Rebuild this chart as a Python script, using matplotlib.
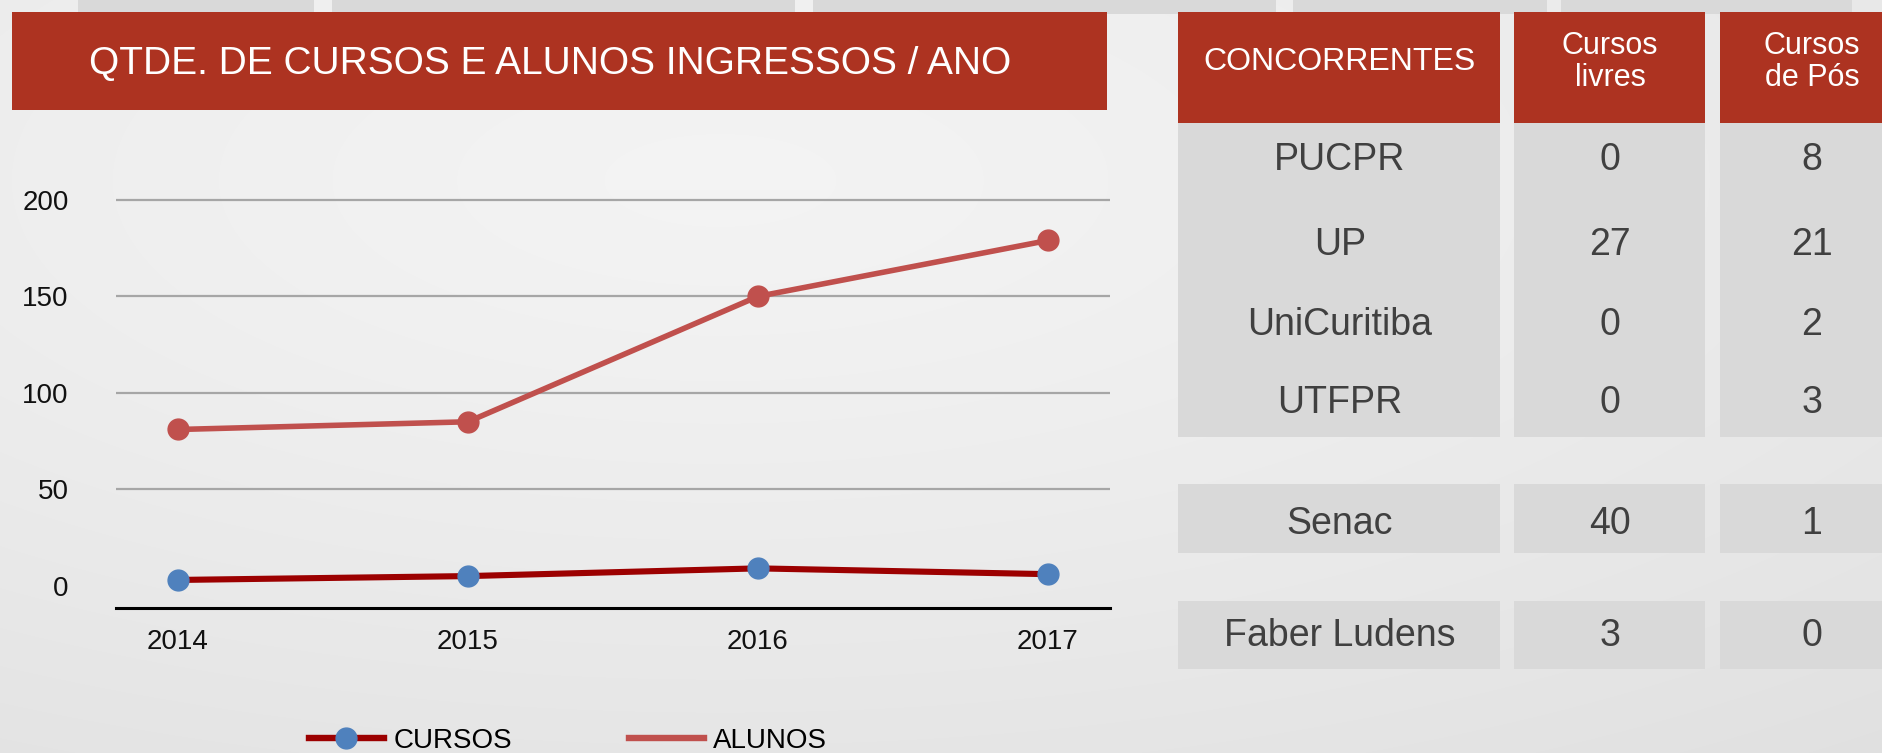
import matplotlib
matplotlib.use('Agg')
import matplotlib.pyplot as plt
import numpy as np
from matplotlib import font_manager
from matplotlib.lines import Line2D
from matplotlib.patches import Rectangle

# dados do grafico
anos = ['2014', '2015', '2016', '2017']
cursos = [3, 5, 9, 6]
alunos = [81, 85, 150, 179]
y_ticks = [0, 50, 100, 150, 200]

# tabela de concorrentes
concorrentes = ['PUCPR', 'UP', 'UniCuritiba', 'UTFPR', 'Senac', 'Faber Ludens']
cursos_livres = [0, 27, 0, 0, 40, 3]
cursos_pos = [8, 21, 2, 3, 1, 0]

titulo = 'QTDE. DE CURSOS E ALUNOS INGRESSOS / ANO'
cabecalho = ['CONCORRENTES', 'Cursos\nlivres', 'Cursos\nde Pós']
legenda = ['CURSOS', 'ALUNOS']


def pick_font(name, default):
    try:
        font_manager.findfont(name, fallback_to_default=False)
        return name
    except Exception:
        return default


SANS = 'Liberation Sans'
NARROW = pick_font('Liberation Sans Narrow', SANS)
plt.rcParams['font.family'] = [SANS, 'DejaVu Sans']

VERMELHO = '#ad3321'
CINZA_CEL = '#d9d9d9'
TXT_TAB = '#404040'

W, H = 1882, 753
fig = plt.figure(figsize=(W / 100, H / 100), dpi=100)

# fundo com degrade
ax_bg = fig.add_axes([0, 0, 1, 1])
ax_bg.set_xlim(0, W)
ax_bg.set_ylim(H, 0)
ax_bg.axis('off')
yy, xx = np.mgrid[0:H, 0:W]
d = np.hypot((xx - 720) / W, (yy - 180) / H)
d = d / d.max()
grad = 0.955 - 0.075 * d ** 1.3
rgb = np.dstack([grad, grad, grad])
ax_bg.imshow(rgb, extent=(0, W, H, 0), aspect='auto', interpolation='bilinear')

# faixas no topo
for x0, x1 in [(78, 314), (332, 795), (813, 1276), (1293, 1547), (1561, 1852)]:
    ax_bg.add_patch(Rectangle((x0, 0), x1 - x0, 14, color=CINZA_CEL, lw=0))

# caixa do titulo
ax_bg.add_patch(Rectangle((12, 12), 1095, 98, color=VERMELHO, lw=0))
title_size = 33 if NARROW != SANS else 28
ax_bg.text(550, 64, titulo, color='white', fontsize=title_size, family=NARROW,
           ha='center', va='center')

# tabela
colunas = [(1178, 1500), (1514, 1705), (1720, 1882)]
col_txt_x = [1340, 1610, 1812]
for (x0, x1), txt, tx in zip(colunas, cabecalho, col_txt_x):
    ax_bg.add_patch(Rectangle((x0, 12), x1 - x0, 111, color=VERMELHO, lw=0))
    fs = 23 if '\n' not in txt else 22
    ax_bg.text(tx, 62, txt, color='white', fontsize=fs, ha='center', va='center',
               linespacing=1.1)

blocos = [(123, 437), (484, 553), (601, 669)]
for y0, y1 in blocos:
    for x0, x1 in colunas:
        ax_bg.add_patch(Rectangle((x0, y0), x1 - x0, y1 - y0, color=CINZA_CEL, lw=0))

linhas_y = [160, 245, 325, 403, 524, 636]
for nome, livre, pos, ty in zip(concorrentes, cursos_livres, cursos_pos, linhas_y):
    for val, tx in zip([nome, str(livre), str(pos)], col_txt_x):
        ax_bg.text(tx, ty, val, color=TXT_TAB, fontsize=27, ha='center', va='center')

# grafico de linhas
ax = fig.add_axes([116 / W, 1 - 608.3 / H, (1110 - 116) / W, (608.3 - 150) / H])
ax.patch.set_alpha(0)
x = np.arange(len(anos))
for v in y_ticks[1:]:
    ax.axhline(v, color='#a6a6a6', lw=1.6, zorder=1)
ax.plot(x, alunos, color='#c0504d', lw=4.0, marker='o', ms=15,
        mfc='#c0504d', mec='#c0504d', zorder=3)
ax.plot(x, cursos, color='#9c0000', lw=4.4, marker='o', ms=15,
        mfc='#4f81bd', mec='#4f81bd', zorder=4)
ax.set_xlim(-0.2138, 3.2138)
ax.set_ylim(-11.7, 225.9)
ax.set_xticks(x, anos)
ax.set_yticks(y_ticks)
for s in ['left', 'right', 'top']:
    ax.spines[s].set_visible(False)
ax.spines['bottom'].set_color('black')
ax.spines['bottom'].set_linewidth(2.2)
ax.tick_params(axis='both', length=0, labelsize=20, colors='#111111')
ax.tick_params(axis='y', pad=34)
ax.tick_params(axis='x', pad=15)

handles = [
    Line2D([], [], color='#9c0000', lw=4.6, marker='o', ms=15, mfc='#4f81bd', mec='#4f81bd'),
    Line2D([], [], color='#c0504d', lw=4.6),
]
fig.legend(handles, legenda, loc='center', bbox_to_anchor=(568 / W, 1 - 741 / H), ncol=2,
           frameon=False, fontsize=20, handlelength=2.7, handletextpad=0.35,
           columnspacing=4.2)

fig.savefig('out.png', dpi=100)
